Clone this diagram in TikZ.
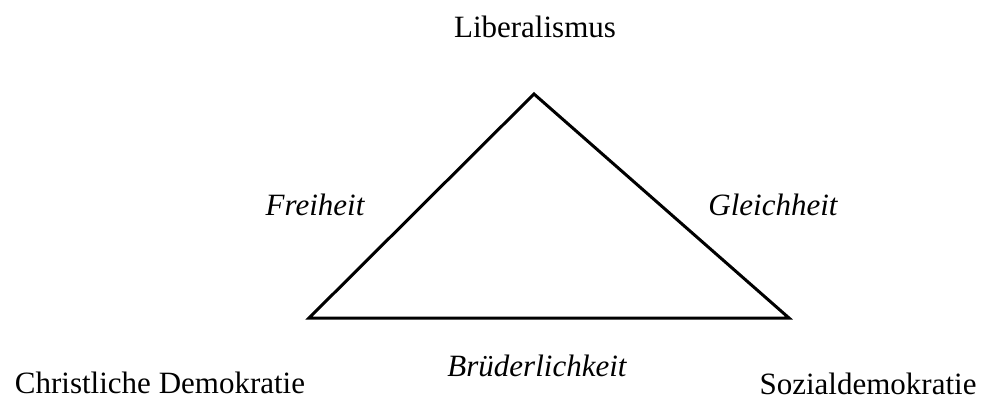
\documentclass[tikz,border=0pt]{standalone}
\usepackage{fontspec}
\setmainfont{Liberation Serif}

\tikzset{
    ideology/.style={anchor=base, inner sep=0pt, font=\fontsize{31}{36}\selectfont},
    value/.style={ideology, font=\fontsize{31}{36}\selectfont\itshape},
}

\begin{document}
\begin{tikzpicture}[x=1pt, y=-1pt]
    \useasboundingbox (0,0) rectangle (981,397);

    % corners of the triangle
    \coordinate (top) at (534,94);
    \coordinate (left) at (309,318);
    \coordinate (right) at (789,318);
    \draw[line width=3pt, line join=miter] (top) -- (right) -- (left) -- cycle;

    % ideologies
    \node[ideology] (lib) at (535,37) {Liberalismus};
    \node[ideology] (cd) at (160,393) {Christliche Demokratie};
    \node[ideology] (sd) at (868,394) {Sozialdemokratie};

    % values
    \node[value] (frei) at (315,215) {Freiheit};
    \node[value] (gleich) at (773,215) {Gleichheit};
    \node[value] (brued) at (537,376) {Brüderlichkeit};
\end{tikzpicture}
\end{document}
